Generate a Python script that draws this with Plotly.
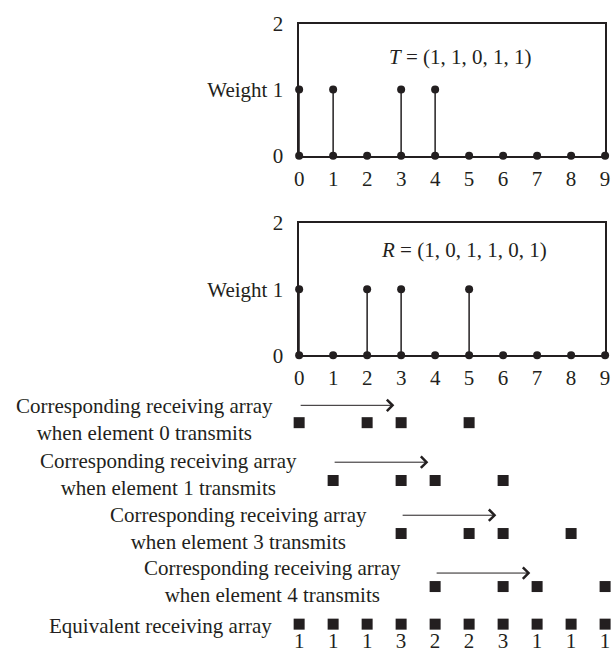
import plotly.graph_objects as go

# ---- data -------------------------------------------------------------
positions = list(range(10))
tx_weights = [1, 1, 0, 1, 1, 0, 0, 0, 0, 0]      # T = (1, 1, 0, 1, 1)
rx_weights = [1, 0, 1, 1, 0, 1, 0, 0, 0, 0]      # R = (1, 0, 1, 1, 0, 1)
tx_label = "<i>T</i> = (1, 1, 0, 1, 1)"
rx_label = "<i>R</i> = (1, 0, 1, 1, 0, 1)"

# receiving array seen for each transmitting element
transmit_elements = [0, 1, 3, 4]
shifted_arrays = [
    [0, 2, 3, 5],
    [1, 3, 4, 6],
    [3, 5, 6, 8],
    [4, 6, 7, 9],
]
equivalent_counts = [1, 1, 1, 3, 2, 2, 3, 1, 1, 1]
y_tick_text = ["0", "Weight 1", "2"]

# ---- styling ----------------------------------------------------------
INK = "#231f20"
FONT = "Liberation Serif"
FS = 21
W, H = 616, 667

def py(px):
    """pixel row -> paper y"""
    return 1 - px / H

x_dom = [299 / W, 610 / W]
top_dom = [py(149), py(12)]
mid_dom = [py(356), py(219)]
low_dom = [0, py(356)]

fig = go.Figure()

def stem_panel(weights, xa, ya):
    xs, ys = [], []
    for x, w in zip(positions, weights):
        if w:
            xs += [x, x, None]
            ys += [0, w, None]
    fig.add_trace(go.Scatter(x=xs, y=ys, mode="lines", xaxis=xa, yaxis=ya,
                             line=dict(color=INK, width=1.5), hoverinfo="skip",
                             showlegend=False))
    fig.add_trace(go.Scatter(x=positions, y=[0] * len(positions), mode="markers",
                             xaxis=xa, yaxis=ya, cliponaxis=False,
                             marker=dict(color=INK, size=8), showlegend=False))
    hx = [x for x, w in zip(positions, weights) if w]
    hy = [w for w in weights if w]
    fig.add_trace(go.Scatter(x=hx, y=hy, mode="markers", xaxis=xa, yaxis=ya,
                             cliponaxis=False, marker=dict(color=INK, size=8),
                             showlegend=False))

stem_panel(tx_weights, "x", "y")
stem_panel(rx_weights, "x2", "y2")

# pixel rows of the lower diagram (y3 runs in pixel units)
row_square_y = [426, 486, 541, 596]
row_arrow_y = [408, 467, 522, 582]
row_text_y = [423, 480, 536, 591]
row_text_cx = [142, 166, 237, 272]
equiv_y, equiv_count_y, equiv_text_cx = 635, 654, 158
arrow_len = 2.8

for k, (elem, arr) in enumerate(zip(transmit_elements, shifted_arrays)):
    fig.add_trace(go.Scatter(x=arr, y=[row_square_y[k]] * len(arr), mode="markers",
                             xaxis="x3", yaxis="y3", cliponaxis=False,
                             marker=dict(symbol="square", color=INK, size=11),
                             showlegend=False))
    fig.add_annotation(x=elem + arrow_len, y=row_arrow_y[k], ax=elem, ay=row_arrow_y[k],
                       xref="x3", yref="y3", axref="x3", ayref="y3", text="",
                       showarrow=True, arrowhead=4, arrowsize=2.2, arrowwidth=1,
                       arrowcolor=INK, standoff=0, startstandoff=0)
    fig.add_annotation(x=row_text_cx[k] / W, y=row_text_y[k], xref="paper", yref="y3",
                       showarrow=False, align="center", xanchor="center",
                       yanchor="middle",
                       text=f"Corresponding receiving array<br>when element {elem} transmits",
                       font=dict(family=FONT, size=FS, color=INK))

fig.add_trace(go.Scatter(x=positions, y=[equiv_y] * len(positions), mode="markers",
                         xaxis="x3", yaxis="y3", cliponaxis=False,
                         marker=dict(symbol="square", color=INK, size=11),
                         showlegend=False))
fig.add_trace(go.Scatter(x=positions, y=[equiv_count_y] * len(positions), mode="text",
                         xaxis="x3", yaxis="y3", cliponaxis=False,
                         text=[str(c) for c in equivalent_counts],
                         textfont=dict(family=FONT, size=FS, color=INK),
                         textposition="middle center", showlegend=False))
fig.add_annotation(x=equiv_text_cx / W, y=equiv_y + 2, xref="paper", yref="y3",
                   showarrow=False, text="Equivalent receiving array", xanchor="center",
                   yanchor="middle", font=dict(family=FONT, size=FS, color=INK))

fig.add_annotation(x=4.75, y=1.49, xref="x", yref="y", showarrow=False, text=tx_label,
                   font=dict(family=FONT, size=FS, color=INK))
fig.add_annotation(x=4.86, y=1.59, xref="x2", yref="y2", showarrow=False, text=rx_label,
                   font=dict(family=FONT, size=FS, color=INK))

box_x = dict(range=[0, 9], domain=x_dom, showgrid=False, zeroline=False,
             showline=True, mirror=True, linecolor=INK, linewidth=1.5, ticks="",
             tickvals=positions, ticktext=[str(p) for p in positions],
             tickfont=dict(family=FONT, size=FS, color=INK), ticklabelstandoff=3)
box_y = dict(range=[0, 2], showgrid=False, zeroline=False, showline=True, mirror=True,
             linecolor=INK, linewidth=1.5, ticks="", tickvals=[0, 1, 2],
             ticktext=y_tick_text, tickfont=dict(family=FONT, size=FS, color=INK),
             ticklabelstandoff=10)

fig.update_layout(
    width=W, height=H, margin=dict(l=0, r=0, t=0, b=0),
    paper_bgcolor="white", plot_bgcolor="white", showlegend=False,
    xaxis=dict(box_x, anchor="y"),
    yaxis=dict(box_y, domain=top_dom, anchor="x"),
    xaxis2=dict(box_x, anchor="y2"),
    yaxis2=dict(box_y, domain=mid_dom, anchor="x2"),
    xaxis3=dict(range=[0, 9], domain=x_dom, visible=False, anchor="y3"),
    yaxis3=dict(range=[H, 356], domain=low_dom, visible=False, anchor="x3"),
)

fig.write_html("out.html")
